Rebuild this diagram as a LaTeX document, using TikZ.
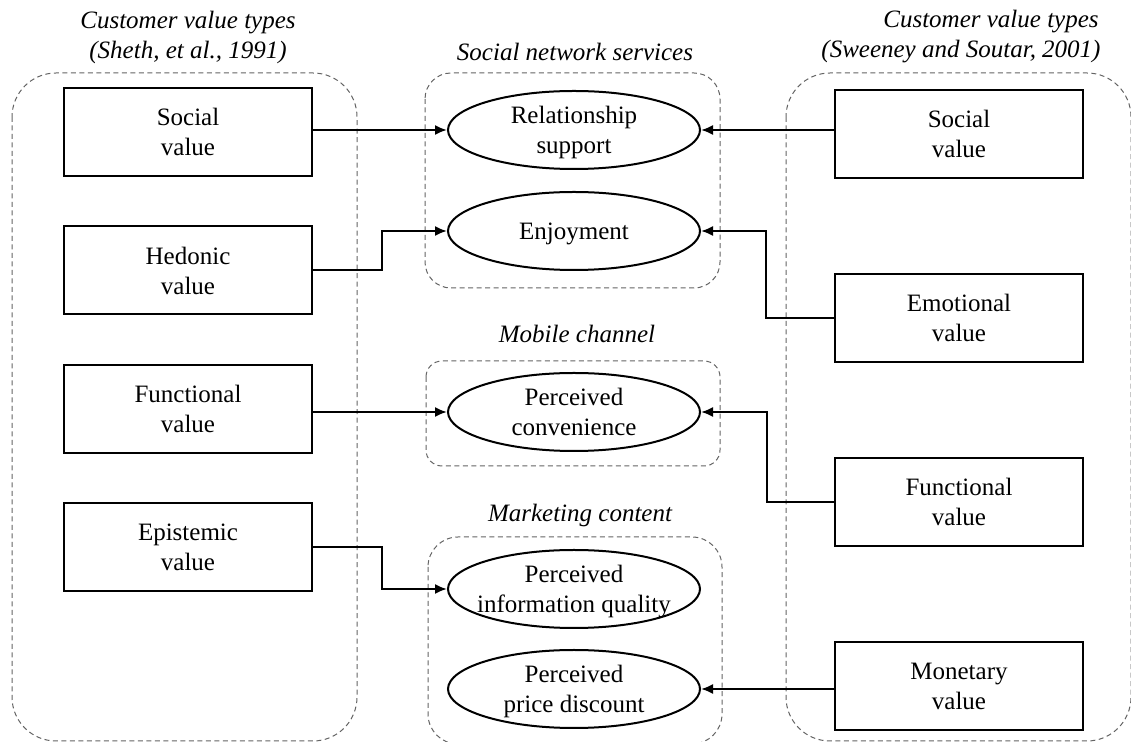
\documentclass[tikz,border=0pt]{standalone}
\usepackage{fontspec}
\setmainfont{Liberation Serif}
\usetikzlibrary{shapes.geometric}
\usetikzlibrary{positioning}
\usetikzlibrary{arrows.meta}

\begin{document}
\begin{tikzpicture}[x=0.5pt,y=-0.5pt,node distance=69.25pt,
	arr/.style={-{Latex[length=6pt,width=5pt]},line width=1pt},
	every node/.style={font=\fontsize{12.5}{15}\selectfont},
	value node/.style={rectangle,draw,line width=1pt,minimum width=124pt,minimum height=44pt,align=center},
	sns node/.style={ellipse,draw,line width=1pt,inner sep=0pt,minimum width=126pt,minimum height=39pt,align=center,text depth=0pt},
	group/.style={draw=grpgray,dash pattern=on 2.5pt off 1.75pt,line width=0.5pt},
	title/.style={font=\fontsize{12.5}{15}\selectfont\itshape,align=center}]
	
	\definecolor{grpgray}{RGB}{100,100,100}
	
	\useasboundingbox (0,0) rectangle (1131,742);
	
	% groups
	\draw[group,rounded corners=22pt] (12,73) rectangle (357,741);
	\draw[group,rounded corners=22pt] (786,73) rectangle (1131,741);
	\draw[group,rounded corners=13pt] (425,73) rectangle (720,288);
	\draw[group,rounded corners=8pt] (426,361) rectangle (720,466);
	\draw[group,rounded corners=15pt] (428,537) rectangle (722,744);
	
	\node[title] (ltitle) at (188,37) {Customer value types\\(Sheth, et al., 1991)};
	\node[title] (rtitle) at (991,22) {Customer value types};
	\node[title] (rsource) at (961,52) {(Sweeney and Soutar, 2001)};
	\node[title] (snstitle) at (575,52) {Social network services};
	\node[title] (mobtitle) at (577,334) {Mobile channel};
	\node[title] (mkttitle) at (580,515) {Marketing content};
	
	% Sheth et al.
	\node[value node] (lsoc) at (188,132) {Social\\value};
	\node[value node] (lhed) [below of=lsoc] {Hedonic\\value};
	\node[value node] (lfun) [below of=lhed] {Functional\\value};
	\node[value node] (lepi) [below of=lfun] {Epistemic\\value};
	
	% Sweeney and Soutar
	\node[value node] (rsoc) at (959,134) {Social\\value};
	\node[value node] (remo) [below of=rsoc,node distance=92pt] {Emotional\\value};
	\node[value node] (rfun) [below of=remo,node distance=92pt] {Functional\\value};
	\node[value node] (rmon) [below of=rfun,node distance=92pt] {Monetary\\value};
	
	% middle
	\node[sns node] (rs) at (574,130) {Relationship\\support};
	\node[sns node] (enj) [below of=rs,node distance=50.5pt] {Enjoyment};
	\node[sns node] (pc) [below of=enj,node distance=90.5pt] {Perceived\\convenience};
	\node[sns node] (piq) [below of=pc,node distance=88.5pt] {Perceived\\\makebox[85pt]{information quality}};
	\node[sns node] (ppd) [below of=piq,node distance=50pt] {Perceived\\price discount};
	
	\draw[arr] (lsoc.east |- rs) -- (rs);
	\draw[arr] (lhed.east) -- ++(69,0) |- (enj);
	\draw[arr] (lfun.east |- pc) -- (pc);
	\draw[arr] (lepi.east) -- ++(69,0) |- (piq);
	\draw[arr] (rsoc.west |- rs) -- (rs);
	\draw[arr] (remo.west) -- ++(-68,0) |- (enj);
	\draw[arr] (rfun.west) -- ++(-67,0) |- (pc);
	\draw[arr] (rmon.west |- ppd) -- (ppd);
\end{tikzpicture}
\end{document}
